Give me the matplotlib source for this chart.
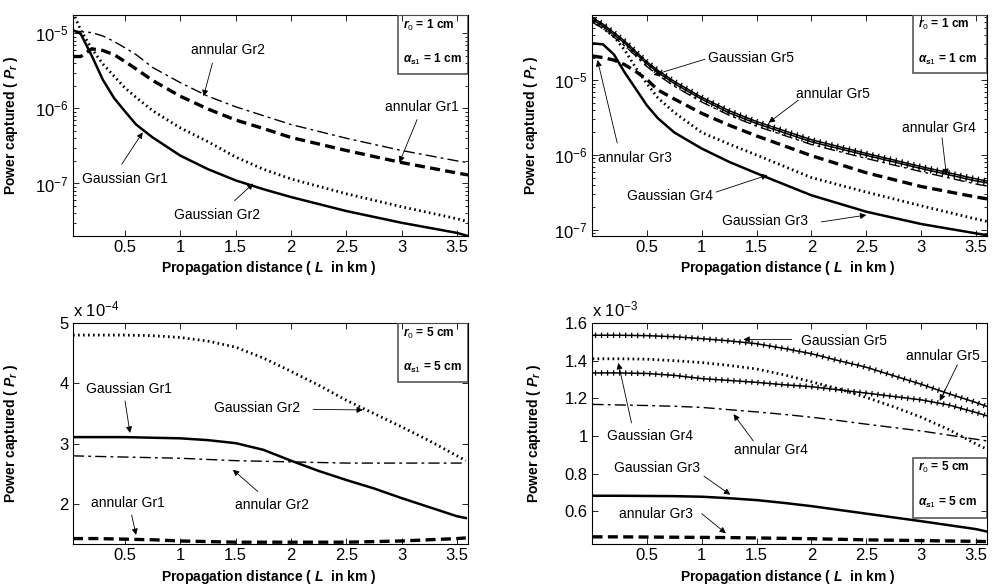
import numpy as np
import matplotlib
matplotlib.use("Agg")
import matplotlib.pyplot as plt
import matplotlib.patheffects as pe
from matplotlib.patches import Rectangle
from matplotlib.ticker import LogLocator, NullFormatter, FixedLocator, FuncFormatter

plt.rcParams['font.family'] = ['Liberation Sans', 'DejaVu Sans']
plt.rcParams['mathtext.fontset'] = 'custom'
plt.rcParams['mathtext.rm'] = 'Liberation Sans'
plt.rcParams['mathtext.it'] = 'Liberation Sans:italic:bold'
plt.rcParams['mathtext.bf'] = 'Liberation Sans:bold'

# ===============================
# DATA  (top row: log scale, r0 = a_s1 = 1 cm)
# ===============================
x_tl = [0.03, 0.1, 0.2, 0.3, 0.4, 0.5, 0.6, 0.75, 1.0, 1.25, 1.5, 1.75, 2.0, 2.5, 3.0, 3.5, 3.6]
tl_gauss_gr1 = [1.1e-5, 9.8e-6, 5.0e-6, 2.4e-6, 1.38e-6, 9.1e-7, 6.1e-7, 4.1e-7, 2.35e-7, 1.55e-7,
                1.1e-7, 8.4e-8, 6.6e-8, 4.3e-8, 3.0e-8, 2.2e-8, 2.0e-8]
tl_gauss_gr2 = [1.9e-5, 1.1e-5, 6.2e-6, 3.9e-6, 2.7e-6, 1.87e-6, 1.4e-6, 9.3e-7, 5.5e-7, 3.6e-7,
                2.25e-7, 1.55e-7, 1.15e-7, 7.3e-8, 4.9e-8, 3.4e-8, 3.1e-8]
tl_annul_gr1 = [4.9e-6, 4.9e-6, 6.2e-6, 5.9e-6, 5.2e-6, 4.2e-6, 3.35e-6, 2.35e-6, 1.45e-6, 9.8e-7,
                7.0e-7, 5.4e-7, 4.1e-7, 2.75e-7, 1.9e-7, 1.38e-7, 1.3e-7]
tl_annul_gr2 = [1.08e-5, 1.05e-5, 1.02e-5, 9.2e-6, 7.8e-6, 6.4e-6, 5.2e-6, 3.5e-6, 2.2e-6, 1.45e-6,
                1.05e-6, 8.0e-7, 6.1e-7, 4.0e-7, 2.75e-7, 2.0e-7, 1.9e-7]

x_tr = [0.005, 0.1, 0.2, 0.3, 0.4, 0.5, 0.6, 0.75, 1.0, 1.25, 1.5, 2.0, 2.5, 3.0, 3.5, 3.6]
tr_gauss_gr3 = [3.1e-5, 3.0e-5, 2.2e-5, 1.25e-5, 7.6e-6, 4.6e-6, 3.1e-6, 2.0e-6, 1.22e-6, 8.1e-7,
                5.7e-7, 2.9e-7, 1.75e-7, 1.2e-7, 9e-8, 8.5e-8]
tr_gauss_gr4 = [6.0e-5, 5.0e-5, 3.8e-5, 2.5e-5, 1.45e-5, 9.0e-6, 5.8e-6, 3.7e-6, 2.0e-6, 1.4e-6,
                1.0e-6, 5.0e-7, 3.2e-7, 2.1e-7, 1.4e-7, 1.3e-7]
tr_gauss_gr5 = [6.8e-5, 5.6e-5, 4.3e-5, 3.3e-5, 2.4e-5, 1.75e-5, 1.35e-5, 9.6e-6, 5.9e-6, 3.9e-6,
                2.8e-6, 1.6e-6, 1.05e-6, 7.0e-7, 4.8e-7, 4.5e-7]
tr_annul_gr3 = [2.1e-5, 2.0e-5, 1.85e-5, 1.6e-5, 1.3e-5, 1.02e-5, 7.4e-6, 5.6e-6, 3.6e-6, 2.5e-6,
                1.8e-6, 9.8e-7, 5.8e-7, 3.8e-7, 2.75e-7, 2.6e-7]
tr_annul_gr4 = [5.9e-5, 4.9e-5, 3.75e-5, 2.85e-5, 2.1e-5, 1.52e-5, 1.17e-5, 8.3e-6, 5.1e-6, 3.4e-6,
                2.43e-6, 1.38e-6, 9.0e-7, 6.0e-7, 4.1e-7, 3.85e-7]
tr_annul_gr5 = [6.4e-5, 5.3e-5, 4.05e-5, 3.1e-5, 2.25e-5, 1.65e-5, 1.27e-5, 9.0e-6, 5.55e-6, 3.65e-6,
                2.63e-6, 1.5e-6, 9.9e-7, 6.6e-7, 4.5e-7, 4.25e-7]

# bottom row: linear scale, r0 = a_s1 = 5 cm
x_bl = [0.03, 0.25, 0.5, 0.75, 1.0, 1.25, 1.5, 1.75, 2.0, 2.25, 2.5, 2.75, 3.0, 3.25, 3.5, 3.58]
bl_gauss_gr1 = [3.11, 3.11, 3.11, 3.10, 3.09, 3.06, 3.01, 2.90, 2.72, 2.55, 2.40, 2.26, 2.10, 1.95, 1.80, 1.77]  # x 1e-4
bl_gauss_gr2 = [4.80, 4.80, 4.80, 4.79, 4.76, 4.70, 4.60, 4.42, 4.20, 3.97, 3.72, 3.50, 3.28, 3.05, 2.80, 2.72]
bl_annul_gr1 = [1.43, 1.43, 1.42, 1.41, 1.39, 1.38, 1.37, 1.37, 1.37, 1.37, 1.37, 1.38, 1.39, 1.41, 1.43, 1.44]
bl_annul_gr2 = [2.80, 2.79, 2.78, 2.77, 2.76, 2.74, 2.72, 2.71, 2.70, 2.69, 2.68, 2.68, 2.68, 2.68, 2.68, 2.68]

x_br = [0.005, 0.25, 0.5, 0.75, 1.0, 1.25, 1.5, 1.75, 2.0, 2.25, 2.5, 2.75, 3.0, 3.25, 3.5, 3.6]
br_gauss_gr3 = [0.683, 0.683, 0.682, 0.681, 0.678, 0.670, 0.660, 0.645, 0.628, 0.608, 0.588, 0.568,
                0.548, 0.527, 0.506, 0.493]  # x 1e-3
br_gauss_gr4 = [1.41, 1.41, 1.408, 1.40, 1.39, 1.375, 1.356, 1.325, 1.288, 1.25, 1.205, 1.155,
                1.10, 1.035, 0.958, 0.93]
br_gauss_gr5 = [1.535, 1.535, 1.533, 1.527, 1.517, 1.505, 1.49, 1.465, 1.437, 1.40, 1.365, 1.32,
                1.275, 1.225, 1.178, 1.157]
br_annul_gr3 = [0.465, 0.465, 0.464, 0.463, 0.462, 0.461, 0.459, 0.457, 0.455, 0.452, 0.449, 0.447,
                0.445, 0.443, 0.441, 0.44]
br_annul_gr4 = [1.168, 1.165, 1.162, 1.158, 1.152, 1.14, 1.128, 1.115, 1.10, 1.082, 1.063, 1.045,
                1.027, 1.005, 0.983, 0.974]
br_annul_gr5 = [1.335, 1.335, 1.332, 1.322, 1.305, 1.295, 1.285, 1.272, 1.262, 1.245, 1.228, 1.21,
                1.192, 1.165, 1.125, 1.107]

# ===============================
# STYLES
# ===============================
SOLID = dict(color='k', lw=1.8, ls='-')
DASHED = dict(color='k', lw=2.4, ls=(0, (3, 1.6)))
DOTTED = dict(color='k', lw=2.0, ls=(0, (0.6, 1.2)))
DASHDOT = dict(color='k', lw=1.0, ls=(0, (8, 3, 2, 3)))
PLUS = dict(color='k', lw=1.1, ls='-',
            path_effects=[pe.TickedStroke(spacing=4.3, angle=90, length=0.35, linewidth=0.9),
                          pe.TickedStroke(spacing=4.3, angle=-90, length=0.35, linewidth=0.9),
                          pe.Normal()])

fig = plt.figure(figsize=(9.95, 5.85), dpi=100)
W, H = 995.0, 585.0
ax_tl = fig.add_axes([73 / W, (H - 236) / H, 395 / W, 221 / H])
ax_tr = fig.add_axes([592 / W, (H - 236) / H, 395 / W, 221 / H])
ax_bl = fig.add_axes([73 / W, (H - 544) / H, 395 / W, 221 / H])
ax_br = fig.add_axes([592 / W, (H - 544) / H, 395 / W, 221 / H])


def label(ax, txt, pos, tail, tip):
    ax.text(pos[0], pos[1], txt, fontsize=10, ha='center', va='center')
    ax.annotate('', xy=tip, xytext=tail,
                arrowprops=dict(arrowstyle='-|>', color='k', lw=0.6,
                                mutation_scale=9, shrinkA=0, shrinkB=0))


def info_box(ax, x0, y0, y1, yt, r):
    ax.add_patch(Rectangle((x0, y0), 1 - x0, y1 - y0, transform=ax.transAxes,
                           fill=False, edgecolor='0.35', lw=1.2, zorder=5))
    ax.text(x0 + 0.012, yt[0], r'$r_0$ = %d cm' % r, transform=ax.transAxes,
            fontsize=8.6, fontweight='bold', va='center')
    ax.text(x0 + 0.012, yt[1], r'$\alpha_{s1}$ = %d cm' % r, transform=ax.transAxes,
            fontsize=8.6, fontweight='bold', va='center')


def setup(ax, xmin, ylx, xly):
    ax.set_xlim(xmin, 3.6)
    ax.set_xticks([0.5, 1, 1.5, 2, 2.5, 3, 3.5])
    ax.xaxis.set_major_formatter(FuncFormatter(lambda v, p: '%g' % v))
    ax.tick_params(which='both', direction='in', top=True, right=True, labelsize=12)
    ax.tick_params(which='major', length=4, width=0.6, pad=3)
    ax.tick_params(which='minor', length=2, width=0.6)
    for s in ax.spines.values():
        s.set_linewidth(0.8)
    ax.set_xlabel(r'Propagation distance ( $L$  in km )', fontsize=10, fontweight='bold')
    ax.set_ylabel(r'Power captured ( $P_r$ )', fontsize=10, fontweight='bold')
    ax.xaxis.set_label_coords(0.496, xly)
    ax.yaxis.set_label_coords(ylx, 0.5)


def log_axis(ax, ymin, ymax):
    ax.set_yscale('log')
    ax.set_ylim(ymin, ymax)
    ax.yaxis.set_major_locator(FixedLocator([1e-7, 1e-6, 1e-5]))
    ax.yaxis.set_major_formatter(FuncFormatter(lambda v, p: r'$10^{%d}$' % round(np.log10(v))))
    ax.yaxis.set_minor_locator(LogLocator(base=10, subs=np.arange(2, 10)))
    ax.yaxis.set_minor_formatter(NullFormatter())


# ---- top left
ax = ax_tl
ax.plot(x_tl, tl_gauss_gr1, **SOLID)
ax.plot(x_tl, tl_gauss_gr2, **DOTTED)
ax.plot(x_tl, tl_annul_gr1, **DASHED)
ax.plot(x_tl, tl_annul_gr2, **DASHDOT)
log_axis(ax, 2.0e-8, 1.75e-5)
setup(ax, 0.03, -0.134, -0.105)
label(ax, 'annular Gr2', (1.43, 5.9e-6), (1.29, 4.0e-6), (1.21, 1.45e-6))
label(ax, 'annular Gr1', (3.18, 1.05e-6), (3.14, 7.1e-7), (2.98, 1.9e-7))
label(ax, 'Gaussian Gr1', (0.5, 1.15e-7), (0.47, 1.8e-7), (0.66, 4.8e-7))
label(ax, 'Gaussian Gr2', (1.33, 3.8e-8), (1.49, 5.9e-8), (1.66, 1.0e-7))
info_box(ax, 0.823, 0.733, 1.0, (0.952, 0.80), 1)

# ---- top right
ax = ax_tr
ax.plot(x_tr, tr_gauss_gr3, **SOLID)
ax.plot(x_tr, tr_gauss_gr4, **DOTTED)
ax.plot(x_tr, tr_annul_gr3, **DASHED)
ax.plot(x_tr, tr_annul_gr4, **DASHDOT)
ax.plot(x_tr, tr_annul_gr5, **PLUS)
ax.plot(x_tr, tr_gauss_gr5, **PLUS)
log_axis(ax, 8.3e-8, 7.4e-5)
setup(ax, 0.0, -0.132, -0.105)
label(ax, 'Gaussian Gr5', (1.45, 1.95e-5), (1.03, 1.9e-5), (0.56, 1.17e-5))
label(ax, 'annular Gr5', (2.2, 6.5e-6), (1.88, 5.4e-6), (1.61, 2.7e-6))
label(ax, 'annular Gr4', (3.16, 2.3e-6), (3.19, 1.7e-6), (3.23, 5.4e-7))
label(ax, 'annular Gr3', (0.39, 9.1e-7), (0.23, 1.45e-6), (0.05, 1.85e-5))
label(ax, 'Gaussian Gr4', (0.71, 2.8e-7), (1.13, 3.2e-7), (1.6, 5.4e-7))
label(ax, 'Gaussian Gr3', (1.58, 1.3e-7), (2.09, 1.28e-7), (2.5, 1.58e-7))
info_box(ax, 0.813, 0.737, 1.0, (0.955, 0.80), 1)

# ---- bottom left (values x 1e-4)
ax = ax_bl
ax.plot(x_bl, bl_gauss_gr1, **SOLID)
ax.plot(x_bl, bl_gauss_gr2, **DOTTED)
ax.plot(x_bl, bl_annul_gr1, **DASHED)
ax.plot(x_bl, bl_annul_gr2, **DASHDOT)
ax.set_ylim(1.34, 5.0)
ax.set_yticks([2, 3, 4, 5])
ax.yaxis.set_major_formatter(FuncFormatter(lambda v, p: '%g' % v))
setup(ax, 0.03, -0.134, -0.11)
ax.text(0.0, 1.015, r'x 10$^{-4}$', transform=ax.transAxes, fontsize=12, va='bottom')
label(ax, 'Gaussian Gr1', (0.54, 3.91), (0.5, 3.71), (0.545, 3.18))
label(ax, 'Gaussian Gr2', (1.69, 3.6), (2.2, 3.57), (2.65, 3.56))
label(ax, 'annular Gr2', (1.83, 1.99), (1.7, 2.21), (1.475, 2.57))
label(ax, 'annular Gr1', (0.53, 2.02), (0.56, 1.82), (0.6, 1.49))
info_box(ax, 0.823, 0.733, 1.0, (0.952, 0.80), 5)

# ---- bottom right (values x 1e-3)
ax = ax_br
ax.plot(x_br, br_gauss_gr3, **SOLID)
ax.plot(x_br, br_gauss_gr4, **DOTTED)
ax.plot(x_br, br_annul_gr3, **DASHED)
ax.plot(x_br, br_annul_gr4, **DASHDOT)
ax.plot(x_br, br_annul_gr5, **PLUS)
ax.plot(x_br, br_gauss_gr5, **PLUS)
ax.set_ylim(0.427, 1.6)
ax.set_yticks([0.6, 0.8, 1.0, 1.2, 1.4, 1.6])
ax.yaxis.set_major_formatter(FuncFormatter(lambda v, p: '%g' % v))
setup(ax, 0.0, -0.124, -0.11)
ax.text(0.0, 1.015, r'x 10$^{-3}$', transform=ax.transAxes, fontsize=12, va='bottom')
label(ax, 'Gaussian Gr5', (2.3, 1.507), (1.82, 1.513), (1.38, 1.513))
label(ax, 'annular Gr5', (3.2, 1.424), (3.33, 1.378), (3.17, 1.187))
label(ax, 'Gaussian Gr4', (0.53, 1.0), (0.36, 1.07), (0.24, 1.388))
label(ax, 'annular Gr4', (1.63, 0.925), (1.47, 0.974), (1.29, 1.116))
label(ax, 'Gaussian Gr3', (0.59, 0.828), (1.02, 0.787), (1.26, 0.689))
label(ax, 'annular Gr3', (0.58, 0.588), (1.0, 0.588), (1.22, 0.484))
info_box(ax, 0.813, 0.118, 0.389, (0.348, 0.19), 5)

fig.savefig('out.png', dpi=100)
